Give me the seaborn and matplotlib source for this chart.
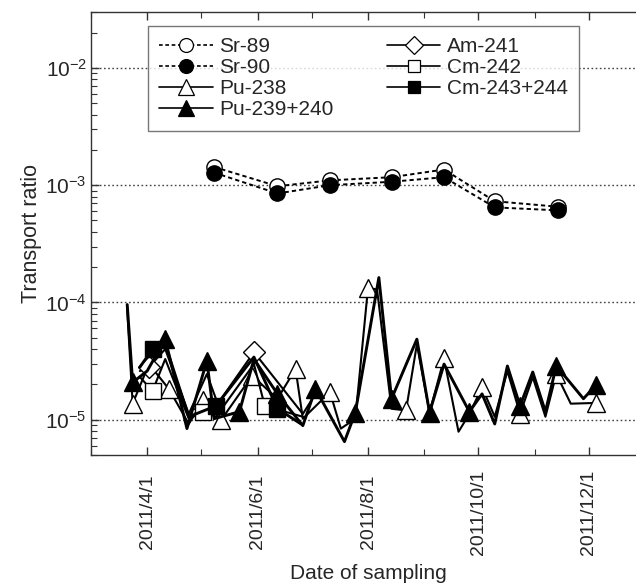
import numpy as np
import pandas as pd
import matplotlib
matplotlib.use('Agg')
import matplotlib.pyplot as plt
import matplotlib.dates as mdates
from matplotlib.lines import Line2D
from matplotlib.ticker import LogLocator, NullFormatter, FixedLocator, FixedFormatter
import seaborn as sns

# ---------------- data ----------------
sr_dates = ['2011-05-08', '2011-06-12', '2011-07-11', '2011-08-14',
            '2011-09-12', '2011-10-10', '2011-11-14']
sr89 = [1.43e-3, 9.8e-4, 1.10e-3, 1.17e-3, 1.36e-3, 7.3e-4, 6.55e-4]
sr90 = [1.28e-3, 8.5e-4, 1.0e-3, 1.07e-3, 1.17e-3, 6.47e-4, 6.1e-4]

pu239_dates = ['2011-03-21', '2011-03-24', '2011-04-01', '2011-04-11', '2011-04-23',
               '2011-05-04', '2011-05-08', '2011-05-22', '2011-05-30', '2011-06-12',
               '2011-06-26', '2011-07-03', '2011-07-19', '2011-07-25', '2011-08-07',
               '2011-08-14', '2011-08-28', '2011-09-04', '2011-09-12', '2011-09-26',
               '2011-10-03', '2011-10-10', '2011-10-17', '2011-10-24', '2011-10-31',
               '2011-11-07', '2011-11-13', '2011-11-28', '2011-12-05']
pu239 = [9.6e-5, 2.08e-5, 2.6e-5, 4.86e-5, 8.4e-6,
         3.18e-5, 1.02e-5, 1.17e-5, 3.29e-5, 1.66e-5,
         8.9e-6, 1.83e-5, 6.5e-6, 1.15e-5, 1.63e-4,
         1.51e-5, 4.86e-5, 1.15e-5, 2.98e-5, 1.17e-5,
         1.66e-5, 9.2e-6, 2.87e-5, 1.31e-5, 2.55e-5,
         1.17e-5, 2.88e-5, 1.51e-5, 1.98e-5]
pu239_marked = [1, 3, 5, 7, 9, 11, 13, 15, 17, 19, 23, 26, 28]

pu238_dates = ['2011-03-21', '2011-03-24', '2011-04-02', '2011-04-13', '2011-04-24',
               '2011-05-02', '2011-05-12', '2011-05-29', '2011-06-12', '2011-06-22',
               '2011-06-26', '2011-07-11', '2011-07-17', '2011-07-25', '2011-08-01',
               '2011-08-06', '2011-08-14', '2011-08-22', '2011-08-28', '2011-09-04',
               '2011-09-12', '2011-09-20', '2011-09-26', '2011-10-03', '2011-10-10',
               '2011-10-17', '2011-10-24', '2011-10-31', '2011-11-07', '2011-11-13',
               '2011-11-21', '2011-12-05']
pu238 = [8.7e-5, 1.37e-5, 2.98e-5, 1.83e-5, 9.2e-6,
         1.46e-5, 1.0e-5, 2.37e-5, 1.51e-5, 2.71e-5,
         1.02e-5, 1.72e-5, 8.4e-6, 1.02e-5, 1.33e-4,
         1.29e-4, 1.24e-5, 1.20e-5, 4.4e-5, 1.15e-5,
         3.33e-5, 7.9e-6, 1.12e-5, 1.89e-5, 1.06e-5,
         2.6e-5, 1.12e-5, 2.31e-5, 1.06e-5, 2.45e-5,
         1.37e-5, 1.39e-5]
pu238_marked = [1, 3, 5, 6, 7, 9, 11, 14, 17, 20, 23, 26, 29, 31]

am241_dates = ['2011-03-28', '2011-04-02', '2011-04-11', '2011-04-24', '2011-05-04',
               '2011-05-10', '2011-05-30', '2011-06-26', '2011-07-03']
am241 = [2.6e-5, 2.81e-5, 4.0e-5, 1.12e-5, 2.45e-5, 1.37e-5, 3.77e-5, 1.12e-5, 1.66e-5]
am241_marked = [1, 6]

cm242_dates = ['2011-03-28', '2011-04-04', '2011-04-11', '2011-04-24', '2011-05-02',
               '2011-05-09', '2011-05-30', '2011-06-05', '2011-06-26']
cm242 = [2.31e-5, 1.76e-5, 3.29e-5, 1.02e-5, 1.17e-5, 1.06e-5, 2.98e-5, 1.31e-5, 1.06e-5]
cm242_marked = [1, 4, 7]

cm243_dates = ['2011-03-28', '2011-04-04', '2011-04-11', '2011-04-24', '2011-05-09',
               '2011-05-30', '2011-06-12', '2011-06-25']
cm243 = [2.81e-5, 4.0e-5, 4.4e-5, 1.06e-5, 1.31e-5, 3.42e-5, 1.24e-5, 9.2e-6]
cm243_marked = [1, 4, 6]

xtick_dates = ['2011-04-01', '2011-06-01', '2011-08-01', '2011-10-01', '2011-12-01']
xtick_labels = ['2011/4/1', '2011/6/1', '2011/8/1', '2011/10/1', '2011/12/1']
ytick_vals = [1e-5, 1e-4, 1e-3, 1e-2]
ytick_labels = [r'$10^{-5}$', r'$10^{-4}$', r'$10^{-3}$', r'$10^{-2}$']

# ---------------- style ----------------
sns.set_style('ticks')
plt.rcParams['font.family'] = ['Liberation Sans', 'DejaVu Sans']
plt.rcParams['mathtext.fontset'] = 'custom'
plt.rcParams['mathtext.rm'] = 'Liberation Sans'
plt.rcParams['mathtext.it'] = 'Liberation Sans'
plt.rcParams['mathtext.default'] = 'regular'

fig = plt.figure(figsize=(6.36, 5.86), dpi=100)
# the original is cropped on the right, so the axes runs past the picture edge
ax = fig.add_axes([91 / 636, 131 / 586, 554 / 636, 443 / 586])
ax.patch.set_visible(False)

def frame(dates, vals):
    return pd.DataFrame({'date': pd.to_datetime(dates), 'val': vals})

dash = (0, (2.2, 1.6))
series = [
    # name, dates, values, marker, face, ls, lw, markevery, ms
    ('Pu-238', pu238_dates, pu238, '^', 'white', '-', 1.5, pu238_marked, 13),
    ('Am-241', am241_dates, am241, 'D', 'white', '-', 1.5, am241_marked, 11),
    ('Cm-242', cm242_dates, cm242, 's', 'white', '-', 1.5, cm242_marked, 11),
    ('Cm-243+244', cm243_dates, cm243, 's', 'black', '-', 2.1, cm243_marked, 11),
    ('Pu-239+240', pu239_dates, pu239, '^', 'black', '-', 2.1, pu239_marked, 13),
    ('Sr-89', sr_dates, sr89, 'o', 'white', dash, 1.4, None, 11),
    ('Sr-90', sr_dates, sr90, 'o', 'black', dash, 1.4, None, 11),
]

for name, d, v, mk, fc, ls, lw, me, ms in series:
    sns.lineplot(data=frame(d, v), x='date', y='val', ax=ax, color='black',
                 linestyle=ls, linewidth=lw, marker=mk, markersize=ms,
                 markerfacecolor=fc, markeredgecolor='black', markeredgewidth=1.0,
                 markevery=me, estimator=None, sort=False, legend=False)

ax.set_yscale('log')
ax.set_ylim(5e-6, 3e-2)
ax.set_xlim(pd.Timestamp('2011-03-01'), pd.Timestamp('2012-01-01'))

ax.yaxis.set_major_locator(FixedLocator(ytick_vals))
ax.yaxis.set_major_formatter(FixedFormatter(ytick_labels))
ax.yaxis.set_minor_locator(LogLocator(base=10, subs=np.arange(2, 10)))
ax.yaxis.set_minor_formatter(NullFormatter())
ax.yaxis.set_ticks_position('left')

ax.set_xticks(pd.to_datetime(xtick_dates))
ax.set_xticklabels(xtick_labels, rotation=90, fontsize=14)
for lab in ax.get_xticklabels():
    lab.set_verticalalignment('center')
ax.xaxis.set_minor_locator(mdates.MonthLocator(bymonthday=1))
ax.xaxis.set_ticks_position('both')

ax.tick_params(axis='both', which='both', direction='in', color='#333333')
ax.tick_params(axis='both', which='major', length=6, width=1)
ax.tick_params(axis='both', which='minor', length=4, width=0.8)
ax.tick_params(axis='x', which='major', pad=41)
ax.tick_params(axis='y', which='major', labelsize=15, pad=3)

for s in ax.spines.values():
    s.set_color('#333333')
    s.set_linewidth(1.0)
ax.spines['right'].set_visible(False)

ax.grid(False)
for yv in ytick_vals:
    ax.axhline(yv, color='#444444', linestyle=(0, (1.2, 1.8)), linewidth=1.0, zorder=0)

ax.set_ylabel('Transport ratio', fontsize=15.5, labelpad=2)
ax.set_xlabel('Date of sampling', fontsize=15)
ax.xaxis.set_label_coords(277 / 554, -0.245)

handles = []
labels = ['Sr-89', 'Sr-90', 'Pu-238', 'Pu-239+240', 'Am-241', 'Cm-242', 'Cm-243+244']
spec = {
    'Sr-89': ('o', 'white', dash, 10),
    'Sr-90': ('o', 'black', dash, 10),
    'Pu-238': ('^', 'white', '-', 11),
    'Pu-239+240': ('^', 'black', '-', 11),
    'Am-241': ('D', 'white', '-', 9),
    'Cm-242': ('s', 'white', '-', 9),
    'Cm-243+244': ('s', 'black', '-', 9),
}
for lab in labels:
    mk, fc, ls, ms = spec[lab]
    handles.append(Line2D([], [], color='black', linestyle=ls, linewidth=1.2,
                          marker=mk, markersize=ms, markerfacecolor=fc,
                          markeredgecolor='black', markeredgewidth=0.9))
leg = ax.legend(handles, labels, ncol=2, loc='upper left',
                bbox_to_anchor=(57 / 554, 429 / 443), fontsize=15,
                frameon=True, fancybox=False, edgecolor='#555555',
                handlelength=2.55, handletextpad=0.33, labelspacing=0.09,
                columnspacing=2.55, borderpad=0.55, borderaxespad=0.0)
leg.get_frame().set_linewidth(1.0)

fig.savefig('out.png', dpi=100, facecolor='white')
